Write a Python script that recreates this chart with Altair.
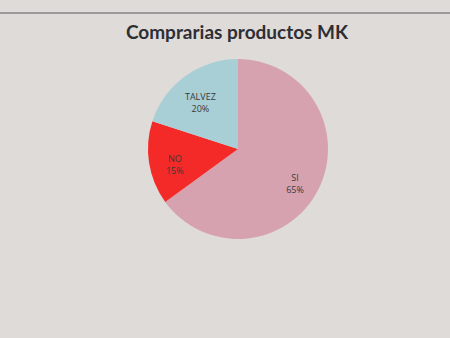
import altair as alt
import pandas as pd

categories = ["SI", "NO", "TALVEZ"]
values = [65, 15, 20]
labels = ["65%", "15%", "20%"]
colors = ["#d7a2b0", "#f32a27", "#a9cfd6"]
order = [0, 1, 2]
title = "Comprarias productos MK"

df = pd.DataFrame({"cat": categories, "val": values, "pct": labels, "ord": order})
df["lab"] = df.apply(lambda r: [r["cat"], r["pct"]], axis=1)

CX, CY, R = 238, 149, 90

base = alt.Chart(df).encode(
    theta=alt.Theta("val:Q", stack=True),
    order=alt.Order("ord:Q"),
)

pie = base.mark_arc(outerRadius=R).encode(
    color=alt.Color("cat:N", scale=alt.Scale(domain=categories, range=colors), legend=None),
    x=alt.value(CX), y=alt.value(CY),
)

text = base.mark_text(radius=64, font="Open Sans", fontSize=9, color="#3a3a3a",
                      lineHeight=12, baseline="middle").encode(
    text="lab",
    x=alt.value(CX), y=alt.value(CY),
)

tdf = pd.DataFrame({"t": [title]})
ttl = alt.Chart(tdf).mark_text(font="Lato", fontWeight="bold", fontSize=19,
                               color="#2e2e35", align="center", baseline="middle").encode(
    text="t:N", x=alt.value(237), y=alt.value(33))

line = alt.Chart(tdf).mark_rule(color="#5a5a5a", strokeWidth=1.2).encode(
    x=alt.value(0), x2=alt.value(450), y=alt.value(13))

chart = alt.layer(pie, text, ttl, line).properties(
    width=450, height=338, padding=0, autosize="none",
    background="#dedbd8",
).configure_view(stroke=None)

chart.save("out.html", embed_options={"renderer": "svg", "actions": False})
